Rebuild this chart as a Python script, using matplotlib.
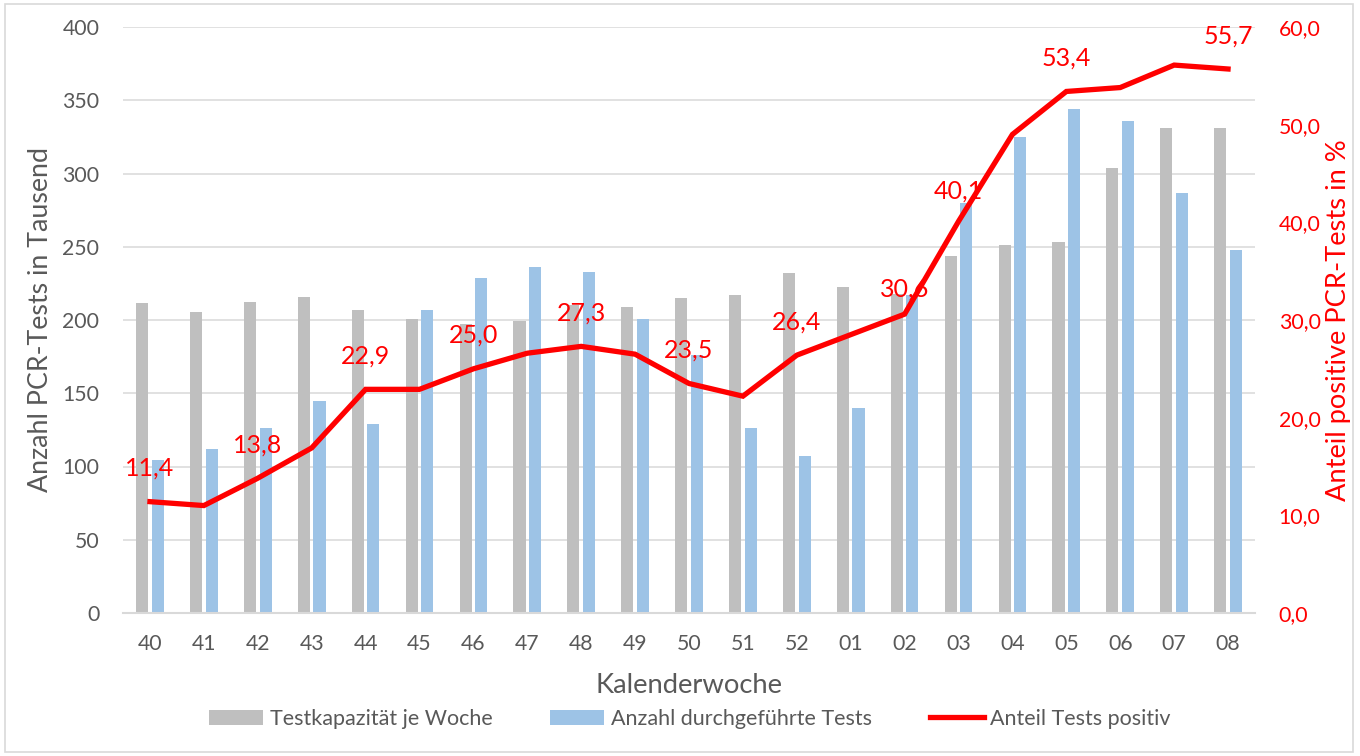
import matplotlib
matplotlib.use('Agg')
import matplotlib.pyplot as plt
from matplotlib.patches import Rectangle

weeks = ['40', '41', '42', '43', '44', '45', '46', '47', '48', '49', '50',
         '51', '52', '01', '02', '03', '04', '05', '06', '07', '08']
capacity = [211.5, 205.5, 212, 216, 206.5, 200.5, 197.5, 199.5, 210, 209, 215,
            217, 232, 222.5, 218, 244, 251, 253.5, 304, 331, 331]
performed = [104.5, 112, 126, 144.5, 129, 207, 228.5, 236, 233, 200.5, 176,
             126.5, 107.5, 140, 217, 280, 325, 344, 336, 287, 248]
positive = [11.4, 11.0, 13.8, 16.9, 22.9, 22.9, 25.0, 26.6, 27.3, 26.5, 23.5,
            22.2, 26.4, 28.5, 30.6, 40.1, 49.0, 53.4, 53.8, 56.1, 55.7]
labelled = ['40', '42', '44', '46', '48', '50', '52', '02', '03', '05', '08']

plt.rcParams['font.family'] = ['Lato', 'DejaVu Sans']
txt = '#595959'
red = '#FF0000'

fig = plt.figure(figsize=(13.6, 7.56), dpi=100)
fig.patches.append(Rectangle((5 / 1360, 4 / 756), 1348 / 1360, 748 / 756,
                             transform=fig.transFigure, fill=False,
                             edgecolor='#D9D9D9', linewidth=1.2))

ax = fig.add_axes([123 / 1360, 1 - 613 / 756, 1132 / 1360, 586 / 756])
x = list(range(len(weeks)))
ax.bar([i - 0.145 for i in x], capacity, width=0.225, color='#BFBFBF',
       label='Testkapazität je Woche', zorder=2)
ax.bar([i + 0.145 for i in x], performed, width=0.225, color='#9DC3E6',
       label='Anzahl durchgeführte Tests', zorder=2)
ax.set_xlim(-0.5, len(weeks) - 0.5)
ax.set_ylim(0, 400)
ax.set_yticks(range(0, 401, 50))
ax.set_xticks(x)
ax.set_xticklabels(weeks)
ax.grid(axis='y', color='#D9D9D9', linewidth=1.1, zorder=0)
ax.set_axisbelow(True)
for s in ['top', 'right', 'left']:
    ax.spines[s].set_visible(False)
ax.spines['bottom'].set_color('#D9D9D9')
ax.spines['bottom'].set_linewidth(1.5)
ax.tick_params(axis='both', length=0, labelsize=15.3, colors=txt)
ax.tick_params(axis='y', pad=17)
ax.tick_params(axis='x', pad=15)
ax.set_ylabel('Anzahl PCR-Tests in Tausend', fontsize=19.3, color=txt, labelpad=7)
ax.set_xlabel('Kalenderwoche', fontsize=19.7, color=txt, labelpad=14)

ax2 = ax.twinx()
ax2.plot(x, positive, color=red, linewidth=3.8, solid_joinstyle='miter',
         label='Anteil Tests positiv', zorder=3)
ax2.set_ylim(0, 60)
ax2.set_yticks(range(0, 61, 10))
ax2.set_yticklabels([f'{v},0' for v in range(0, 61, 10)])
for s in ['top', 'right', 'left', 'bottom']:
    ax2.spines[s].set_visible(False)
ax2.tick_params(axis='y', length=0, labelsize=15.3, colors=red, pad=17)
ax2.set_ylabel('Anteil positive PCR-Tests in %', fontsize=19.6, color=red, labelpad=4)

for w in labelled:
    i = weeks.index(w)
    dy = 24
    if w == '02':
        dy = 18
    elif w == '03':
        dy = 22
    ax2.annotate(f'{positive[i]:.1f}'.replace('.', ','), (i, positive[i]),
                 xytext=(0, dy), textcoords='offset points', ha='center',
                 va='center', color=red, fontsize=18, zorder=4)

h1, l1 = ax.get_legend_handles_labels()
h2, l2 = ax2.get_legend_handles_labels()
fig.legend(h1 + h2, l1 + l2, loc='center', bbox_to_anchor=(690 / 1360, 1 - 719 / 756),
           ncol=3, frameon=False, fontsize=15.5, labelcolor=txt, handlelength=2.5,
           handleheight=0.7, handletextpad=0.3, columnspacing=2.7)

fig.savefig('out.png', dpi=100)
